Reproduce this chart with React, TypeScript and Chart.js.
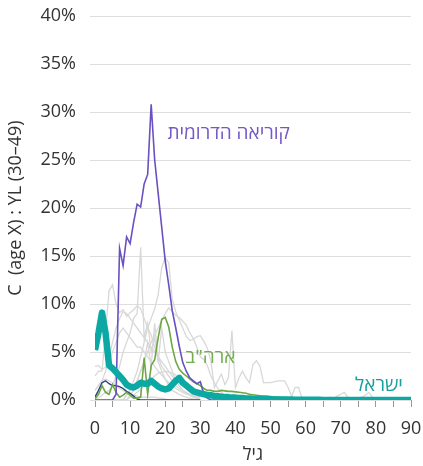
import React, { useEffect, useRef } from 'react';
import { Chart, registerables } from 'chart.js';

Chart.register(...registerables);

const FONT = "'Open Sans', 'Noto Sans', 'DejaVu Sans', sans-serif";

// x axis: age 0..90, y axis: share in %
const X_TICKS_STEP = 5;
const Y_TICKS_STEP = 5;
const X_MAX = 90;
const Y_MAX = 40;

// Highlighted series (values by age starting at 0)
const ISRAEL = [
  5.2, 7.0, 9.1, 7.0, 3.6, 3.3, 2.9, 2.5, 2.1, 1.6,
  1.4, 1.3, 1.5, 1.8, 1.7, 1.7, 2.0, 1.7, 1.4, 1.2,
  1.1, 1.2, 1.6, 2.0, 2.3, 1.8, 1.5, 1.2, 0.9, 0.8,
  0.7, 0.6, 0.5, 0.5, 0.4, 0.4, 0.35, 0.3, 0.3, 0.25,
  0.25, 0.2, 0.2, 0.15, 0.15, 0.12, 0.1, 0.1, 0.1, 0.08,
  0.08, 0.06, 0.05, 0.05, 0.05, 0.04, 0.04, 0.03, 0.03, 0.03,
  0.02, 0.02, 0.02, 0.02, 0.02, 0.01, 0.01, 0.01, 0.01, 0.01,
  0.01, 0.01, 0.01, 0.01, 0, 0, 0, 0, 0, 0,
  0, 0, 0, 0, 0, 0, 0, 0, 0, 0, 0,
];
const KOREA = [
  0, 0, 0, 0, 0, 0, 0.6, 15.8, 14, 17,
  16.3, 18.5, 20.4, 20.1, 22.5, 23.5, 30.8, 25, 21.5, 18,
  14.5, 12, 9.3, 7.5, 5.6, 3.9, 3, 2.3, 2, 1.7,
  1.9, 0.6, 0.2, 0, 0, 0, 0, 0, 0, 0, 0,
];
const USA = [
  0.1, 0.6, 1.5, 0.8, 0.6, 1.6, 0.8, 0.3, 0.5, 0.8,
  0.5, 0.2, 0.2, 0.3, 4.4, 0.6, 3.6, 4.2, 6.5, 8.4,
  8.6, 7.6, 5.5, 4.0, 3.2, 2.8, 2.5, 2.2, 1.9, 1.7,
  1.5, 1.2, 1.0, 1.0, 0.9, 0.9, 1.0, 0.95, 0.9, 0.9,
  0.85, 0.8, 0.75, 0.7, 0.6, 0.55, 0.5, 0.45, 0.4, 0.4,
  0.35, 0.3, 0.3, 0.25, 0.25, 0.2, 0.15, 0.15, 0.1, 0.05, 0,
];
const NAVY = [
  0.3, 1.0, 1.8, 2.0, 1.7, 1.5, 1.5, 1.4, 1.2, 0.9,
  0.7, 0.4, 0.1, 0, 0, 0, 0, 0, 0, 0,
  0, 0, 0, 0, 0, 0, 0, 0, 0, 0, 0,
];

// Background (grey) series
const GRAY_A = [2.5, 3, 3, 7, 11.4, 12, 10, 9.1, 9.4, 8.7, 9.1, 9.4, 9.8, 9.5, 8.5, 7.5, 6.8, 5.5, 4.5, 3.5, 3, 2.5, 2, 1.5, 1.2, 1, 0.8, 0.6, 0.5, 0.4, 0.3];
const GRAY_B = [0, 0.2, 0.5, 0.8, 1, 1.5, 2.5, 3.5, 5, 6, 7, 8.5, 9, 15.9, 6.5, 8, 5, 6.5, 4, 3, 2.2, 1.5, 1, 0.8, 0.6, 0.4, 0.3, 0.2, 0.1, 0];
const GRAY_C = [
  0, 0, 0, 0, 0, 0, 0, 0, 0, 0.5,
  1, 2, 3, 4.5, 6, 7.5, 8.5, 9.5, 11, 13.8,
  14.8, 14.3, 10.5, 9.2, 8.3, 7.5, 6.6, 6.2, 6.3, 6.6,
  6.7, 6.1, 5.4, 4.1, 1.3, 2, 2.7, 1.6, 2.3, 7.2,
  1.3, 2.3, 3, 2.3, 1.8, 3.7, 4.1, 3.5, 1.8, 1.8,
  1.8, 1.9, 2, 2, 2, 1.3, 0.4, 1.3, 1.3, 0.1, 0,
];
const GRAY_D = [
  0, 0, 0, 0, 0, 0, 0, 0, 0, 0,
  0.5, 1, 2, 3, 4, 5, 6, 6.8, 7.5, 8.3,
  9, 9.6, 9.2, 8.8, 8.6, 8.2, 7.8, 7.0, 6.4, 5.5,
  4.5, 4.2, 3.6, 2.5, 1.8, 1.2, 0.8, 0.5, 0.3, 0.2, 0,
];
const GRAY_E = [3.5, 3.6, 3.2, 3.4, 4, 5, 6, 7, 7.5, 7, 6.5, 6, 5.5, 5.5, 5, 4.5, 4, 3.5, 3, 2.6, 2.2, 1.8, 1.5, 1.2, 1, 0.8, 0.6, 0.5, 0.4, 0.3, 0.2];
const GRAY_F = [0, 0, 0, 0, 0, 0, 0, 0, 0, 0, 0.3, 0.5, 0.8, 1.1, 1.5, 1.9, 2.2, 2.5, 2.8, 2.9, 3, 2.9, 2.8, 2.6, 2.3, 2, 1.6, 1.3, 1, 0.8, 0.6, 0.4, 0.3, 0.2, 0.1, 0];
const GRAY_G = [0, 0, 0, 0, 0, 0, 0, 0, 0, 0.5, 1, 1.5, 2, 3, 4, 6, 3.5, 8, 4, 7.5, 5, 4, 3, 2, 1.5, 1, 0.7, 0.5, 0.3, 0.2, 0];
const GRAY_H = [1, 1.5, 2, 3, 4.5, 6, 7.5, 8.5, 9.2, 9, 8.5, 8, 7.5, 7, 6.5, 6, 5.5, 5, 4.5, 4, 3.5, 3, 2.5, 2, 1.5, 1, 0.7, 0.5, 0.3, 0.2, 0];
const GRAY_I = [1, 1.5, 2, 2.2, 2, 1.8, 1.5, 1.2, 1, 0.8, 0.6, 0.5, 0.4, 0.3, 0.3, 0.3, 0.3, 0.3, 0.2, 0.2, 0.1, 0];
const GRAY_J_START = 60;
const GRAY_J = [0.2, 0.1, 0.1, 0.2, 0.1, 0.1, 0.2, 0.3, 0.2, 0.4, 0.6, 0.8, 0.3, 0.2, 0.1, 0.2, 0.3, 0.5, 0.8, 0.3, 0.2, 0.1, 0.1, 0.1, 0, 0, 0, 0, 0, 0, 0];

const GRAYS: { values: number[]; start: number }[] = [
  { values: GRAY_A, start: 0 },
  { values: GRAY_B, start: 0 },
  { values: GRAY_C, start: 0 },
  { values: GRAY_D, start: 0 },
  { values: GRAY_E, start: 0 },
  { values: GRAY_F, start: 0 },
  { values: GRAY_G, start: 0 },
  { values: GRAY_H, start: 0 },
  { values: GRAY_I, start: 0 },
  { values: GRAY_J, start: GRAY_J_START },
];

const COLORS = {
  israel: '#0ba8a4',
  israelText: '#17a0a0',
  korea: '#6a50c2',
  koreaText: '#7459c6',
  usa: '#6ca844',
  usaText: '#74ad4e',
  navy: '#2b3f7e',
  gray: '#d8d8d8',
  grid: '#dedede',
  text: '#333333',
};

const SERIES_LABELS = [
  { text: 'קוריאה הדרומית', x: 55.5, y: 27.8, color: COLORS.koreaText },
  { text: 'ארה"ב', x: 40, y: 4.4, color: COLORS.usaText },
  { text: 'ישראל', x: 87.7, y: 1.5, color: COLORS.israelText },
];

const toPoints = (vals: number[], start = 0) => vals.map((y, i) => ({ x: start + i, y }));

const labelPlugin = {
  id: 'seriesLabels',
  afterDatasetsDraw(chart: any) {
    const { ctx, scales } = chart;
    const xs = scales.x;
    const ys = scales.y;
    SERIES_LABELS.forEach((l) => {
      ctx.save();
      ctx.font = `19px ${FONT}`;
      ctx.fillStyle = l.color;
      ctx.textAlign = 'right';
      ctx.textBaseline = 'middle';
      ctx.fillText(l.text, xs.getPixelForValue(l.x), ys.getPixelForValue(l.y));
      ctx.restore();
    });
  },
};

export default function App() {
  const ref = useRef<HTMLCanvasElement | null>(null);

  useEffect(() => {
    if (!ref.current) return;
    const grayDatasets = GRAYS.map((g, i) => ({
      label: `gray${i}`,
      data: toPoints(g.values, g.start),
      borderColor: COLORS.gray,
      borderWidth: 1.3,
      pointRadius: 0,
      order: 10,
    }));
    const chart = new Chart(ref.current, {
      type: 'line',
      data: {
        datasets: [
          {
            label: 'ישראל',
            data: toPoints(ISRAEL),
            borderColor: COLORS.israel,
            borderWidth: 6.5,
            pointRadius: 0,
            borderJoinStyle: 'round',
            order: 0,
          },
          {
            label: 'קוריאה הדרומית',
            data: toPoints(KOREA),
            borderColor: COLORS.korea,
            borderWidth: 1.6,
            pointRadius: 0,
            order: 1,
          },
          {
            label: 'ארה"ב',
            data: toPoints(USA),
            borderColor: COLORS.usa,
            borderWidth: 1.6,
            pointRadius: 0,
            order: 2,
          },
          {
            label: 'navy',
            data: toPoints(NAVY),
            borderColor: COLORS.navy,
            borderWidth: 1.4,
            pointRadius: 0,
            order: 3,
          },
          ...grayDatasets,
        ] as any,
      },
      options: {
        responsive: false,
        animation: false,
        events: [],
        layout: { padding: { top: 16, right: 12, left: 0, bottom: 0 } },
        plugins: {
          legend: { display: false },
          tooltip: { enabled: false },
        },
        scales: {
          x: {
            type: 'linear',
            min: 0,
            max: X_MAX,
            afterFit: (s: any) => {
              s.height = 66;
              s.paddingLeft = 0;
              s.paddingRight = 0;
            },
            border: { display: false },
            grid: {
              drawOnChartArea: false,
              drawTicks: true,
              tickLength: 7,
              tickColor: '#999999',
              tickWidth: 1,
            },
            ticks: {
              stepSize: X_TICKS_STEP,
              autoSkip: false,
              maxRotation: 0,
              padding: 11,
              color: COLORS.text,
              font: { family: FONT, size: 18 },
              callback: (v: any) => (Number(v) % 10 === 0 ? String(v) : ''),
            },
            title: {
              display: true,
              text: 'גיל',
              color: COLORS.text,
              font: { family: FONT, size: 18 },
              padding: { top: 0, bottom: 0 },
            },
          },
          y: {
            type: 'linear',
            min: 0,
            max: Y_MAX,
            afterFit: (s: any) => {
              s.width = 95;
              s.paddingTop = 0;
              s.paddingBottom = 0;
            },
            border: { display: false },
            grid: {
              color: COLORS.grid,
              lineWidth: 1,
              drawTicks: true,
              tickLength: 5,
            },
            ticks: {
              stepSize: Y_TICKS_STEP,
              padding: 14,
              color: COLORS.text,
              font: { family: FONT, size: 18 },
              callback: (v: any) => `${v}%`,
            },
            title: {
              display: true,
              text: 'C  (age X) : YL (30–49)',
              color: COLORS.text,
              font: { family: FONT, size: 18 },
              padding: { top: 5, bottom: 0 },
            },
          },
        },
      } as any,
      plugins: [labelPlugin],
    });
    return () => chart.destroy();
  }, []);

  return (
    <div style={{ position: 'fixed', left: 0, top: 0, width: 423, height: 466, background: '#fff' }}>
      <canvas ref={ref} width={423} height={466} style={{ display: 'block' }} />
    </div>
  );
}
